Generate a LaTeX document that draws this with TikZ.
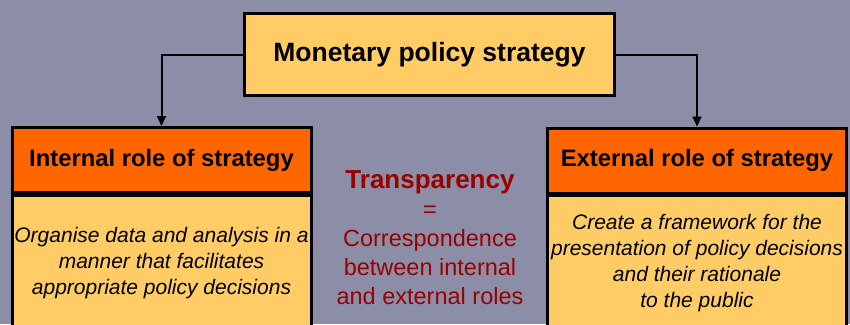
\documentclass[tikz,border=0pt]{standalone}
\usepackage{fontspec}
\setmainfont{Liberation Sans}
\usetikzlibrary{arrows.meta}
\definecolor{bg}{RGB}{140,142,168}
\definecolor{pale}{HTML}{FFCC66}
\definecolor{hot}{HTML}{FF6600}
\definecolor{deepred}{HTML}{990000}
\begin{document}
\begin{tikzpicture}[x=1pt,y=-1pt,
  box/.style={draw=black, line width=3pt, inner sep=0pt, align=center},
  headbox/.style={box, fill=hot, minimum width=299pt, minimum height=65pt,
    font=\fontsize{23.8}{28}\selectfont\bfseries},
  bodybox/.style={box, fill=pale, minimum width=299pt, minimum height=135pt,
    font=\fontsize{21}{25.8}\selectfont\itshape},
  link/.style={draw=black, line width=2pt, -{Triangle[length=10pt,width=9pt]}},
]
\fill[bg] (0,0) rectangle (850,324);
\useasboundingbox (0,0) rectangle (850,324);
\begin{scope}
  \clip (0,0) rectangle (850,324);

  % top box
  \node[box, fill=pale, minimum width=370pt, minimum height=82pt,
        font=\fontsize{26.5}{30}\selectfont\bfseries] (top) at (429.5,54.5)
        {Monetary policy strategy};

  % left column
  \node[bodybox] (leftbody) at (161.5,263) {Organise data and analysis in a\\manner that facilitates\\appropriate policy decisions};
  \node[headbox] (lefthead) at (161.5,160) {Internal role of strategy};

  % right column
  \node[bodybox] (rightbody) at (697,263) {Create a framework for the\\presentation of policy decisions\\and their rationale\\to the public};
  \node[headbox] (righthead) at (697,160.5) {External role of strategy};

  % centre statement
  \node[align=center, text=deepred, inner sep=0pt,
        font=\fontsize{23.5}{29}\selectfont] (mid) at (430,238)
        {{\fontsize{26}{29}\selectfont\bfseries Transparency}\\=\\Correspondence\\between internal\\and external roles};

  % connectors
  \draw[link] (top.west) -| (lefthead.north);
  \draw[link] (top.east) -| (righthead.north);
\end{scope}
\end{tikzpicture}
\end{document}
